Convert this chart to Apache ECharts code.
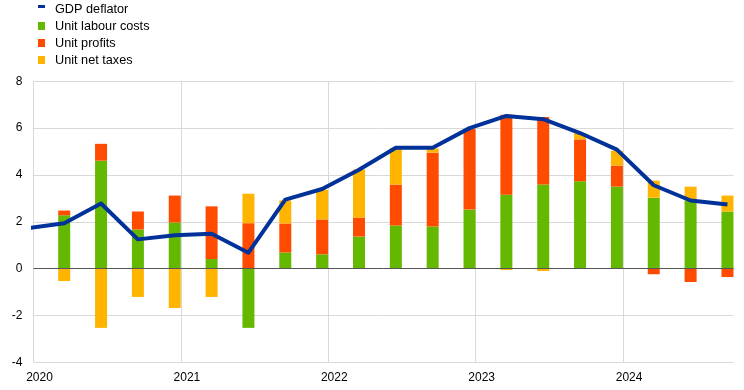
<!DOCTYPE html>
<html>
<head>
<meta charset="utf-8">
<script src="https://cdn.jsdelivr.net/npm/echarts@6/dist/echarts.min.js"></script>
<style>
html,body{margin:0;padding:0;background:#fff;}
#chart{width:744px;height:390px;}
</style>
</head>
<body>
<div id="chart"></div>
<script>
// Quarters (bars start 2020Q1; line also has 2019Q4)
var lineQuarters = ['2019Q4','2020Q1','2020Q2','2020Q3','2020Q4','2021Q1','2021Q2','2021Q3','2021Q4','2022Q1','2022Q2','2022Q3','2022Q4','2023Q1','2023Q2','2023Q3','2023Q4','2024Q1','2024Q2','2024Q3'];
var barQuarters = lineQuarters.slice(1);
var gdpDeflator = [1.72, 1.94, 2.78, 1.25, 1.43, 1.49, 0.68, 2.95, 3.40, 4.22, 5.16, 5.16, 6.00, 6.52, 6.38, 5.79, 5.08, 3.56, 2.91, 2.74];
var unitLabourCosts = [2.28, 4.61, 1.67, 1.97, 0.41, -2.53, 0.69, 0.61, 1.37, 1.84, 1.80, 2.52, 3.16, 3.59, 3.73, 3.50, 3.03, 2.91, 2.44];
var unitProfits = [0.20, 0.72, 0.77, 1.15, 2.25, 1.94, 1.24, 1.49, 0.81, 1.75, 3.15, 3.44, 3.41, 2.89, 1.79, 0.90, -0.24, -0.57, -0.36];
var unitNetTaxes = [-0.53, -2.53, -1.21, -1.68, -1.21, 1.26, 0.98, 1.27, 2.05, 1.56, 0.18, 0.00, -0.06, -0.10, 0.27, 0.63, 0.73, 0.59, 0.68];
var yearTicks = [2020, 2021, 2022, 2023, 2024];

var names = ['GDP deflator', 'Unit labour costs', 'Unit profits', 'Unit net taxes'];
var colors = {blue: '#003299', green: '#65B800', red: '#FF4B00', yellow: '#FFB400'};

// position of a quarterly observation on the year axis (mid of last month of quarter)
function qx(q) {
  var y = parseInt(q.slice(0, 4), 10);
  var n = parseInt(q.slice(5), 10);
  return y + (n - 1) / 4 + 5 / 24;
}
// value first, position second, so stacking acts on the value dimension
function pairs(qs, vals) {
  return qs.map(function (q, i) { return [vals[i], qx(q)]; });
}

var chart = echarts.init(document.getElementById('chart'), null, {renderer: 'canvas'});
var font = "'Liberation Sans', Arial, sans-serif";
var dims = [{name: 'val', type: 'float'}, {name: 'pos', type: 'float'}];

function barSeries(name, color, vals, extra) {
  var s = {
    name: name, type: 'bar', stack: 'total', barWidth: 12,
    dimensions: dims, encode: {x: 'pos', y: 'val'},
    itemStyle: {color: color},
    data: pairs(barQuarters, vals),
    z: 2
  };
  if (extra) { for (var k in extra) s[k] = extra[k]; }
  return s;
}

var option = {
  animation: false,
  backgroundColor: '#ffffff',
  textStyle: {fontFamily: font},
  legend: {
    orient: 'vertical',
    left: 33,
    top: -3,
    itemWidth: 7,
    itemHeight: 8,
    itemGap: 3,
    selectedMode: false,
    textStyle: {fontFamily: font, fontSize: 12.7, color: '#000', lineHeight: 14, padding: [0, 0, 0, 5]},
    data: [
      {name: names[0], icon: 'path://M0,0H7V3H0Z M0,7.95H7V8H0Z', itemStyle: {color: colors.blue}},
      {name: names[1], icon: 'rect'},
      {name: names[2], icon: 'rect'},
      {name: names[3], icon: 'rect'}
    ]
  },
  grid: {left: 33.5, right: 10.4, top: 81.3, bottom: 27.7, containLabel: false},
  xAxis: {
    type: 'value',
    min: yearTicks[0],
    max: 2024.75,
    interval: 1,
    axisLine: {show: false},
    axisTick: {show: false},
    splitLine: {show: true, showMaxLine: false, lineStyle: {color: '#d9d9d9', width: 1}},
    axisLabel: {
      fontFamily: font, fontSize: 12, color: '#000', margin: 9,
      padding: [0, 0, 0, 12],
      showMaxLabel: false,
      formatter: function (v) { return yearTicks.indexOf(v) >= 0 ? String(v) : ''; }
    }
  },
  yAxis: {
    type: 'value',
    min: -4,
    max: 8,
    interval: 2,
    axisLine: {show: false},
    axisTick: {show: false},
    splitLine: {show: true, lineStyle: {color: '#d9d9d9', width: 1}},
    axisLabel: {fontFamily: font, fontSize: 12, color: '#000', margin: 11}
  },
  series: [
    barSeries(names[1], colors.green, unitLabourCosts, {
      markLine: {
        silent: true, symbol: ['none', 'none'], animation: false,
        label: {show: false},
        lineStyle: {color: '#555555', width: 1, type: 'solid'},
        data: [{yAxis: 0}]
      }
    }),
    barSeries(names[2], colors.red, unitProfits),
    barSeries(names[3], colors.yellow, unitNetTaxes),
    {
      name: names[0], type: 'line', clip: true,
      symbol: 'none', showSymbol: false,
      dimensions: dims, encode: {x: 'pos', y: 'val'},
      lineStyle: {color: colors.blue, width: 4, join: 'round'},
      itemStyle: {color: colors.blue},
      data: pairs(lineQuarters, gdpDeflator),
      z: 5
    }
  ]
};
chart.setOption(option);
</script>
</body>
</html>
